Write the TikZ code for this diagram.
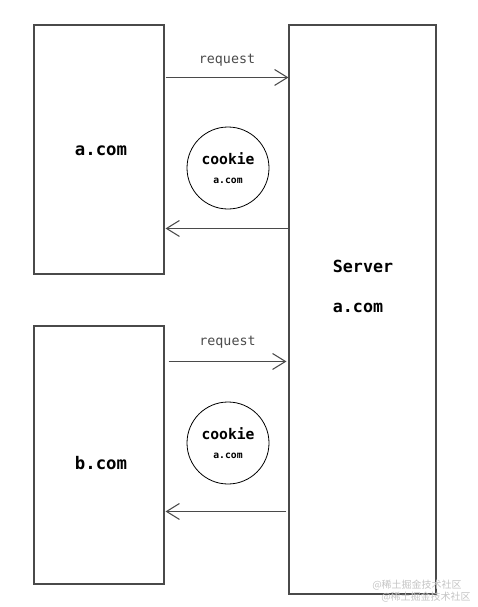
\documentclass[tikz,border=0pt]{standalone}
\usepackage{fontspec}
\setmonofont{DejaVu Sans Mono}
\newfontfamily\cjk{Noto Sans CJK SC}
\usepackage{xcolor}
\usetikzlibrary{calc,arrows.meta}
\definecolor{linex}{HTML}{4A4A4A}
\definecolor{markx}{HTML}{C4C4C4}
\tikzset{
  ar/.style={-{Straight Barb[length=3.4mm,width=4.2mm]},linex,line width=0.8pt},
  box/.style={draw=linex,line width=0.8pt,minimum width=97.5pt,inner sep=0pt},
  ck/.style={circle,draw=black,line width=0.6pt,minimum size=61.5pt,inner sep=0pt,align=center,font=\ttfamily\bfseries\fontsize{11}{13}\selectfont},
  lbl/.style={font=\ttfamily\bfseries\fontsize{13}{15}\selectfont},
  rq/.style={font=\ttfamily\fontsize{10}{12}\selectfont}
}

\begin{document}
\begin{tikzpicture}[x=0.75pt,y=-0.75pt]
\useasboundingbox (0,0) rectangle (478,607);
% boxes
\node[box,minimum height=186.75pt] (acom) at (99,149.5) {};
\node[box,minimum height=193.5pt] (bcom) at (99,455) {};
\node[box,minimum width=110.25pt,minimum height=426.75pt] (server) at (362.5,309.5) {};
\node[lbl] (atxt) at (101,151) {a.com};
\node[lbl] (btxt) at (101,463) {b.com};
\node[lbl,font=\ttfamily\bfseries\fontsize{12.5}{15}\selectfont] (stxt1) at (363,266) {Server};
\node[lbl,font=\ttfamily\bfseries\fontsize{12.5}{15}\selectfont] (stxt2) at (358,308) {a.com};
% cookies
\node[ck] (cka) at (228,168) {cookie\\[1pt]{\fontsize{7.3}{9}\selectfont a.com}};
\node[ck] (ckb) at (228,443) {cookie\\[1pt]{\fontsize{7.3}{9}\selectfont a.com}};
% requests and replies
\draw[ar] ($(acom.north east)+(1,53)$) -- ($(server.north west)+(0,53)$) node[midway,above=5pt,rq] (reqa) {request};
\draw[ar] ($(server.north west)+(0,204)$) -- ($(acom.north east)+(1,204)$);
\draw[ar] ($(bcom.north east)+(4,36)$) -- ($(server.north west)+(-2,337)$) node[midway,above=6pt,rq] (reqb) {request};
\draw[ar] ($(server.north west)+(-2,487)$) -- ($(bcom.north east)+(1,186)$);
% watermark
\node[markx,font=\cjk\fontsize{7.5}{9}\selectfont] (wm1) at (417,585) {@稀土掘金技术社区};
\node[markx,font=\cjk\fontsize{7.5}{9}\selectfont] (wm2) at (426,597) {@稀土掘金技术社区};
\end{tikzpicture}
\end{document}
